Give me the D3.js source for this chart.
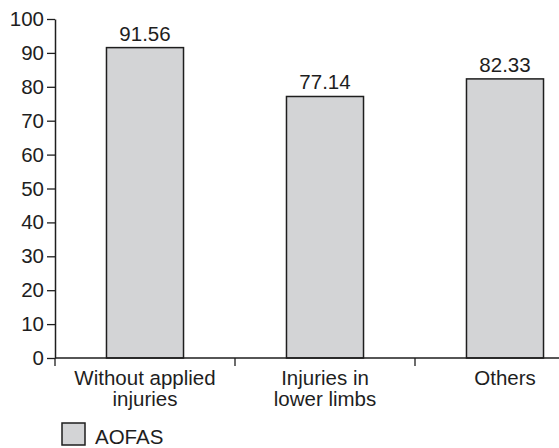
<!DOCTYPE html>
<html>
<head>
<meta charset="utf-8">
<script src="https://cdn.jsdelivr.net/npm/d3@7"></script>
<style>
  html, body { margin: 0; padding: 0; background: #fff; }
  svg { display: block; font-family: "Liberation Sans", Arial, sans-serif; }
</style>
</head>
<body>
<svg id="chart" width="559" height="448"></svg>
<script>
// AOFAS scores by injury group
const categories = [["Without applied", "injuries"], ["Injuries in", "lower limbs"], ["Others"]];
const aofas = [91.56, 77.14, 82.33];
const yTicks = [0, 10, 20, 30, 40, 50, 60, 70, 80, 90, 100];
const seriesName = "AOFAS";

const svg = d3.select("#chart");
const ink = "#1e1e1e";
const fill = "#d3d4d6";
const fontSize = 20.5;

const x0 = 55, x1 = 595, yTop = 19, yBottom = 358;
const keys = categories.map((c, i) => i);

const x = d3.scaleBand().domain(keys).range([x0, x1])
  .paddingInner(0.572).paddingOuter(0.286);
const step = x.step();
const y = d3.scaleLinear().domain([0, 100]).range([yBottom, yTop]);

// y axis
const yAxis = svg.append("g").attr("transform", `translate(${x0},0)`)
  .call(d3.axisLeft(y).tickValues(yTicks).tickSize(8).tickPadding(3).tickSizeOuter(0));
yAxis.select(".domain").attr("stroke", ink).attr("stroke-width", 1.5);
yAxis.selectAll(".tick line").attr("stroke", ink).attr("stroke-width", 1.3);
yAxis.selectAll(".tick text").attr("fill", ink).attr("font-size", fontSize)
  .attr("font-family", "Liberation Sans, Arial, sans-serif");

// bars
svg.append("g").selectAll("rect").data(aofas).join("rect")
  .attr("x", (d, i) => x(i))
  .attr("width", x.bandwidth())
  .attr("y", d => y(d))
  .attr("height", d => y(0) - y(d))
  .attr("fill", fill)
  .attr("stroke", ink)
  .attr("stroke-width", 1.5);

// value labels
svg.append("g").selectAll("text").data(aofas).join("text")
  .attr("x", (d, i) => x(i) + x.bandwidth() / 2)
  .attr("y", d => y(d) - 7)
  .attr("text-anchor", "middle")
  .attr("font-size", fontSize)
  .attr("fill", ink)
  .text(d => d.toFixed(2));

// x axis line and category boundary ticks
svg.append("line")
  .attr("x1", x0).attr("x2", x1).attr("y1", yBottom).attr("y2", yBottom)
  .attr("stroke", ink).attr("stroke-width", 1.5);
const boundaries = keys.map(i => x(i) - step * x.paddingInner() / 2).concat([x1]);
svg.append("g").selectAll("line").data(boundaries).join("line")
  .attr("x1", d => d).attr("x2", d => d)
  .attr("y1", yBottom).attr("y2", yBottom + 8)
  .attr("stroke", ink).attr("stroke-width", 1.3);

// category labels
const labels = svg.append("g").selectAll("text").data(categories).join("text")
  .attr("x", (d, i) => x(i) + x.bandwidth() / 2)
  .attr("y", 385)
  .attr("text-anchor", "middle")
  .attr("font-size", fontSize)
  .attr("fill", ink);
labels.selectAll("tspan").data(d => d).join("tspan")
  .attr("x", function() { return this.parentNode.getAttribute("x"); })
  .attr("dy", (d, j) => j === 0 ? 0 : 21)
  .text(d => d);

// legend
const legend = svg.append("g").attr("transform", "translate(62,423)");
legend.append("rect").attr("width", 23).attr("height", 22)
  .attr("fill", fill).attr("stroke", ink).attr("stroke-width", 1.5);
legend.append("text").attr("x", 33).attr("y", 21)
  .attr("font-size", fontSize).attr("fill", ink).text(seriesName);
</script>
</body>
</html>
